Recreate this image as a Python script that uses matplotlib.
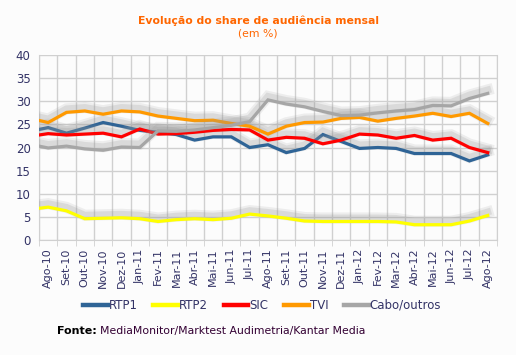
import numpy as np
import matplotlib
matplotlib.use("Agg")
from matplotlib import pyplot as plt
from matplotlib import patheffects as pe
from matplotlib.lines import Line2D

# meses (Jul-10 fica fora do eixo, so se ve o inicio da linha)
meses = ['Jul-10', 'Ago-10', 'Set-10', 'Out-10', 'Nov-10', 'Dez-10', 'Jan-11', 'Fev-11',
         'Mar-11', 'Abr-11', 'Mai-11', 'Jun-11', 'Jul-11', 'Ago-11', 'Set-11',
         'Out-11', 'Nov-11', 'Dez-11', 'Jan-12', 'Fev-12', 'Mar-12', 'Abr-12',
         'Mai-12', 'Jun-12', 'Jul-12', 'Ago-12']

rtp1 = [23.5, 24.3, 23.1, 24.2, 25.4, 24.6, 23.7, 23.3, 22.8, 21.6, 22.3, 22.3, 20.0,
        20.6, 18.9, 19.8, 22.8, 21.3, 19.8, 20.0, 19.8, 18.7, 18.7, 18.7, 17.1, 18.4]
rtp2 = [6.6, 7.1, 6.3, 4.6, 4.7, 4.8, 4.6, 4.0, 4.4, 4.6, 4.4, 4.7, 5.6,
        5.2, 4.7, 4.1, 4.0, 4.0, 4.0, 4.0, 3.9, 3.3, 3.3, 3.3, 4.1, 5.3]
sic = [22.4, 23.0, 22.7, 22.9, 23.1, 22.3, 24.0, 22.9, 23.0, 23.3, 23.7, 23.9, 23.8,
       21.6, 22.2, 22.0, 20.8, 21.6, 22.9, 22.7, 22.0, 22.6, 21.6, 22.0, 20.0, 18.9]
tvi = [26.3, 25.4, 27.6, 27.9, 27.2, 27.9, 27.7, 26.8, 26.3, 25.8, 25.9, 25.2, 24.6,
       22.9, 24.6, 25.4, 25.5, 26.3, 26.5, 25.7, 26.3, 26.8, 27.4, 26.7, 27.4, 25.2]
cabo = [20.7, 19.9, 20.3, 19.7, 19.4, 20.1, 20.0, 23.6, 23.5, 23.8, 24.3, 24.8, 25.6,
        30.3, 29.4, 28.8, 27.8, 26.9, 27.0, 27.5, 27.9, 28.2, 29.1, 29.0, 30.6, 31.7]

series = [('RTP1', rtp1, '#2F6496'), ('RTP2', rtp2, '#FFFF00'),
          ('SIC', sic, '#FF0000'), ('TVI', tvi, '#FF9900'),
          ('Cabo/outros', cabo, '#A6A6A6')]

bg = '#FCFCFC'
txt = '#333366'

fig = plt.figure(figsize=(5.16, 3.55), dpi=100, facecolor=bg)
ax = fig.add_axes([0.0756, 0.324, 0.8874, 0.521], facecolor=bg)

x = np.arange(len(meses))
sombra = [pe.SimpleLineShadow(offset=(0, 2.5), shadow_color='#999999', alpha=0.15, linewidth=8),
          pe.SimpleLineShadow(offset=(0, 2.5), shadow_color='#999999', alpha=0.22, linewidth=5),
          pe.Normal()]
for nome, vals, cor in series:
    ax.plot(x, vals, color=cor, lw=2.3, solid_joinstyle='miter', path_effects=sombra, zorder=3)

ax.set_xlim(0.5, len(meses) - 0.5)
ax.set_ylim(0, 40)
ax.set_yticks(range(0, 41, 5))
ax.set_xticks(x[1:])
ax.set_xticklabels(meses[1:], rotation=90)
ax.set_xticks(np.arange(0.5, len(meses), 1), minor=True)
ax.tick_params(axis='x', which='major', length=0, pad=6, labelsize=8, labelcolor=txt)
ax.tick_params(axis='x', which='minor', length=4, color='#D0D0D0')
ax.tick_params(axis='y', length=0, pad=6, labelsize=8.5, labelcolor=txt)
ax.grid(True, which='minor', axis='x', color='#D0D0D0', lw=1)
ax.grid(True, which='major', axis='y', color='#D0D0D0', lw=1)
ax.set_axisbelow(True)
for s in ax.spines.values():
    s.set_color('#D0D0D0')
ax.spines['top'].set_visible(False)

fig.text(0.5, 0.942, 'Evolução do share de audiência mensal', ha='center', va='center',
         color='#FF6600', fontsize=7.8, fontweight='bold')
fig.text(0.5, 0.905, '(em %)', ha='center', va='center', color='#FF6600', fontsize=7.8)

handles = [Line2D([], [], color=c, lw=3.2) for _, _, c in series]
fig.legend(handles, [n for n, _, _ in series], loc='center', bbox_to_anchor=(0.508, 0.14),
           ncol=5, frameon=False, fontsize=8.5, handlelength=2.1, handletextpad=0.1,
           columnspacing=1.3, labelcolor=txt)

fig.text(0.11, 0.068, 'Fonte:', ha='left', va='center', fontsize=8, fontweight='bold',
         color='#000000')
fig.text(0.194, 0.068, 'MediaMonitor/Marktest Audimetria/Kantar Media', ha='left',
         va='center', fontsize=7.8, color='#330033')

fig.savefig('out.png', dpi=100, facecolor=bg)
